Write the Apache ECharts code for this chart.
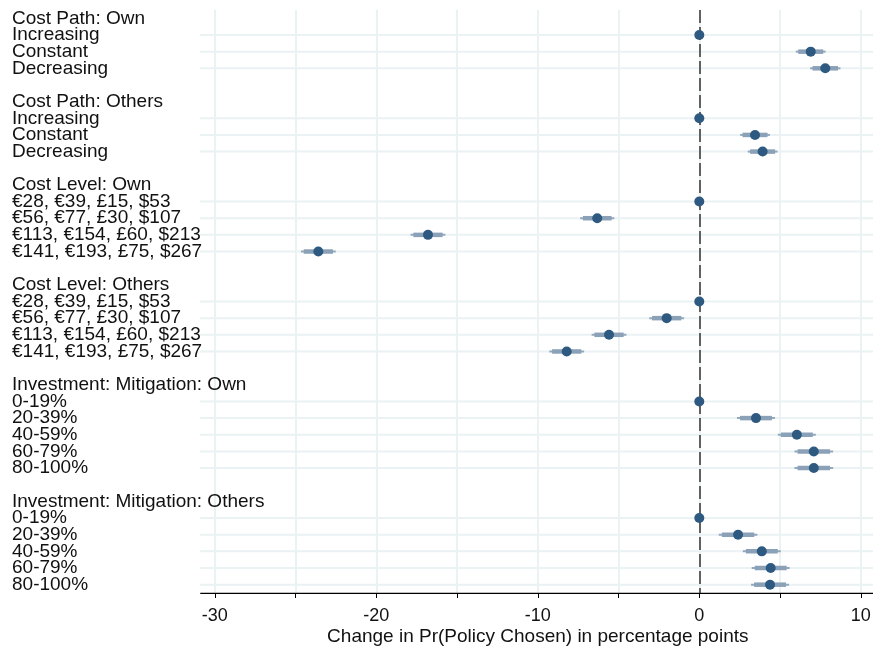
<!DOCTYPE html>
<html>
<head>
<meta charset="utf-8">
<script src="https://cdn.jsdelivr.net/npm/echarts@6/dist/echarts.min.js"></script>
<style>
html,body{margin:0;padding:0;background:#fff;}
#chart{width:873px;height:647px;}
</style>
</head>
<body>
<div id="chart"></div>
<script>
// ---- Data ----
const groupHeaders = ['Cost Path: Own', 'Cost Path: Others', 'Cost Level: Own', 'Cost Level: Others',
  'Investment: Mitigation: Own', 'Investment: Mitigation: Others'];
const pathLevels = ['Increasing', 'Constant', 'Decreasing'];
const costLevels = ['€28, €39, £15, $53', '€56, €77, £30, $107', '€113, €154, £60, $213', '€141, €193, £75, $267'];
const mitLevels = ['0-19%', '20-39%', '40-59%', '60-79%', '80-100%'];

const estPathOwn = [0, 6.90, 7.80];
const sePathOwn = [0, 0.47, 0.48];
const estPathOthers = [0, 3.45, 3.92];
const sePathOthers = [0, 0.47, 0.47];
const estLevelOwn = [0, -6.32, -16.80, -23.59];
const seLevelOwn = [0, 0.54, 0.55, 0.55];
const estLevelOthers = [0, -2.02, -5.59, -8.21];
const seLevelOthers = [0, 0.55, 0.55, 0.55];
const estMitOwn = [0, 3.51, 6.04, 7.09, 7.09];
const seMitOwn = [0, 0.60, 0.60, 0.61, 0.61];
const estMitOthers = [0, 2.40, 3.87, 4.42, 4.38];
const seMitOthers = [0, 0.61, 0.60, 0.60, 0.60];

const xTicks = [-30, -20, -10, 0, 10];
const xTitle = 'Change in Pr(Policy Chosen) in percentage points';

// ---- Build rows ----
const groupLevels = [pathLevels, pathLevels, costLevels, costLevels, mitLevels, mitLevels];
const groupEst = [estPathOwn, estPathOthers, estLevelOwn, estLevelOthers, estMitOwn, estMitOthers];
const groupSe = [sePathOwn, sePathOthers, seLevelOwn, seLevelOthers, seMitOwn, seMitOthers];

const rowLabels = [];
const itemRows = [];
const points = [];
const ciData = [];
groupHeaders.forEach((h, g) => {
  if (g > 0) rowLabels.push('');
  rowLabels.push(h);
  groupLevels[g].forEach((lab, i) => {
    const r = rowLabels.length;
    rowLabels.push(lab);
    itemRows.push(r);
    const e = groupEst[g][i], s = groupSe[g][i];
    points.push([e, r]);
    if (s > 0) ciData.push([e, r, e - 1.96 * s, e + 1.96 * s, e - 1.645 * s, e + 1.645 * s]);
  });
});

const FONT = '"Liberation Sans", Arial, Helvetica, sans-serif';
const GRID_COLOR = '#eaf2f3';
const X_LEFT = -30.9, X_RIGHT = 11.5;

const chart = echarts.init(document.getElementById('chart'), null, {renderer: 'canvas'});
chart.setOption({
  animation: false,
  backgroundColor: '#fff',
  grid: {left: 214.8, right: 12.2, top: 10, bottom: 54, containLabel: false, outerBoundsMode: 'none'},
  xAxis: {
    type: 'value', min: -30, max: 10, interval: 5,
    axisLine: {show: false},
    axisTick: {show: true, length: 5, lineStyle: {color: '#000', width: 1}},
    axisLabel: {
      margin: 14, color: '#111', fontSize: 18, fontFamily: FONT,
      formatter: v => (xTicks.indexOf(v) >= 0 ? String(v) : '')
    },
    splitLine: {show: true, lineStyle: {color: GRID_COLOR, width: 2}},
    name: xTitle, nameLocation: 'middle', nameGap: 34, nameMoveOverlap: false,
    nameTextStyle: {color: '#111', fontSize: 19, fontFamily: FONT}
  },
  yAxis: {
    type: 'category', inverse: true, boundaryGap: true,
    data: rowLabels.map((_, i) => i),
    axisLine: {show: false}, axisTick: {show: false}, splitLine: {show: false},
    axisLabel: {
      interval: 0, align: 'left', margin: 202.8, color: '#111', fontSize: 19, fontFamily: FONT,
      formatter: v => rowLabels[+v]
    }
  },
  series: [
    { // horizontal gridlines at item rows
      type: 'custom', silent: true, clip: false, z: 1,
      data: itemRows.map(r => [0, r]),
      encode: {x: 0, y: 1},
      renderItem: (params, api) => {
        const y = api.coord([0, api.value(1)])[1];
        const x1 = api.coord([X_LEFT, api.value(1)])[0];
        const x2 = api.coord([X_RIGHT, api.value(1)])[0];
        return {type: 'line', shape: {x1, y1: y, x2, y2: y}, style: {stroke: GRID_COLOR, lineWidth: 2}};
      }
    },
    { // x axis line extended across whole plot region
      type: 'custom', silent: true, clip: false, z: 3,
      data: [[0, 0]],
      encode: {x: 0, y: 1},
      renderItem: (params, api) => {
        const cs = params.coordSys;
        const yb = cs.y + cs.height + 0.3;
        const x1 = api.coord([X_LEFT, 0])[0];
        const x2 = api.coord([X_RIGHT, 0])[0];
        return {type: 'line', shape: {x1, y1: yb, x2, y2: yb}, style: {stroke: '#000', lineWidth: 1.2}};
      }
    },
    { // confidence intervals
      type: 'custom', silent: true, z: 4,
      data: ciData,
      encode: {x: [0, 2, 3], y: 1},
      renderItem: (params, api) => {
        const r = api.value(1);
        const a = api.coord([api.value(2), r]);
        const b = api.coord([api.value(3), r]);
        const c = api.coord([api.value(4), r]);
        const d = api.coord([api.value(5), r]);
        return {type: 'group', children: [
          {type: 'line', shape: {x1: a[0], y1: a[1], x2: b[0], y2: b[1]}, style: {stroke: '#93a9be', lineWidth: 2}},
          {type: 'line', shape: {x1: c[0], y1: c[1], x2: d[0], y2: d[1]}, style: {stroke: '#8aa1b7', lineWidth: 4.5}}
        ]};
      }
    },
    { // point estimates
      type: 'scatter', z: 5,
      data: points,
      symbol: 'circle', symbolSize: 10,
      itemStyle: {color: '#2e5a81', opacity: 1},
      markLine: {
        silent: true, symbol: ['none', 'none'], label: {show: false},
        lineStyle: {color: '#333', type: [13, 4], width: 1.5},
        data: [{xAxis: 0}]
      }
    }
  ]
});
</script>
</body>
</html>
